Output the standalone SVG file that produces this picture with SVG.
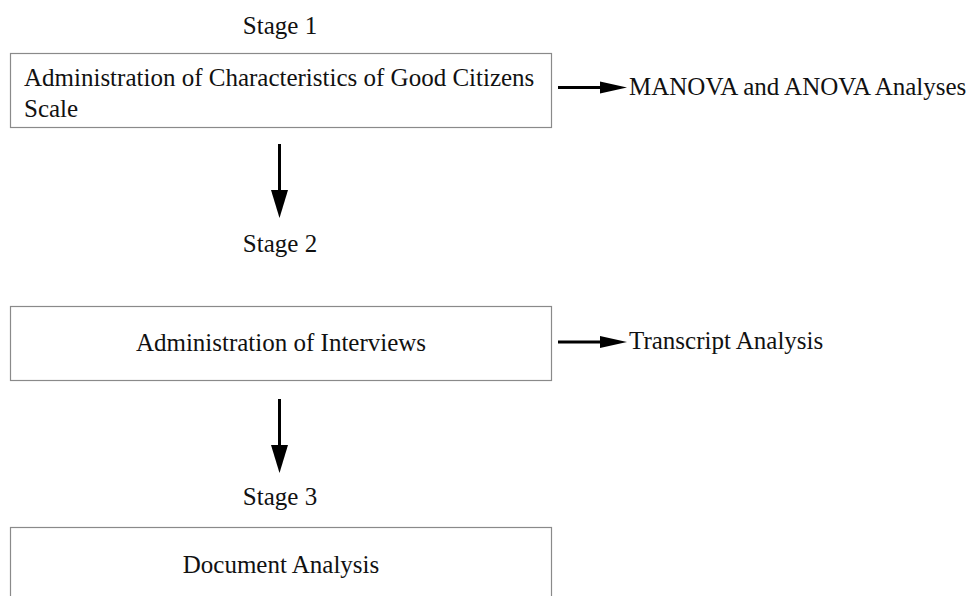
<svg xmlns="http://www.w3.org/2000/svg" width="971" height="596" viewBox="0 0 971 596">
  <style>
    .box { fill: #ffffff; stroke: #8a8a8a; stroke-width: 1.2; }
    .t { font-family: "Liberation Serif", "Times New Roman", serif; font-size: 25px; fill: #111111; }
    .c { text-anchor: middle; }
    .line { stroke: #000000; stroke-width: 3; fill: none; }
    .head { fill: #000000; }
  </style>
  <rect width="971" height="596" fill="#ffffff"/>

  <!-- stage headings -->
  <text class="t c" x="280" y="34">Stage 1</text>
  <text class="t c" x="280" y="252">Stage 2</text>
  <text class="t c" x="280" y="505">Stage 3</text>

  <g id="node-scale">
    <rect class="box" x="10.5" y="53.5" width="541" height="74"/>
    <text class="t" x="24" y="86">Administration of Characteristics of Good Citizens</text>
    <text class="t" x="24" y="117">Scale</text>
  </g>

  <g id="node-manova">
    <text class="t" x="629" y="95">MANOVA and ANOVA Analyses</text>
  </g>

  <g id="node-interviews">
    <rect class="box" x="10.5" y="306.5" width="541" height="74"/>
    <text class="t c" x="281" y="351">Administration of Interviews</text>
  </g>

  <g id="node-transcript">
    <text class="t" x="629" y="349">Transcript Analysis</text>
  </g>

  <g id="node-document">
    <rect class="box" x="10.5" y="527.5" width="541" height="80"/>
    <text class="t c" x="281" y="573">Document Analysis</text>
  </g>

  <g id="connectors">
    <!-- stage 1 to stage 2 -->
    <line class="line" x1="279.5" y1="144" x2="279.5" y2="194"/>
    <polygon class="head" points="271,190 288,190 279.5,218"/>
    <!-- stage 2 to stage 3 -->
    <line class="line" x1="279.5" y1="399" x2="279.5" y2="449"/>
    <polygon class="head" points="271,445 288,445 279.5,473"/>
    <!-- scale to MANOVA -->
    <line class="line" x1="558" y1="87.5" x2="604" y2="87.5"/>
    <polygon class="head" points="600,81.5 627,87.5 600,93.5"/>
    <!-- interviews to transcript -->
    <line class="line" x1="558" y1="342" x2="604" y2="342"/>
    <polygon class="head" points="600,336 627,342 600,348"/>
  </g>
</svg>
